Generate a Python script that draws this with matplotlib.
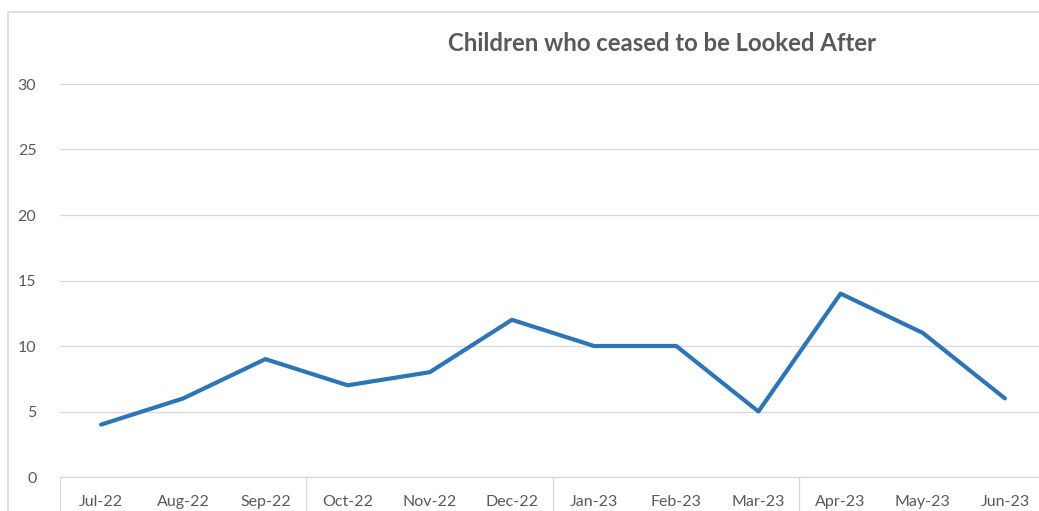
import matplotlib
matplotlib.use('Agg')
import matplotlib.pyplot as plt
from matplotlib.patches import Rectangle

months = ["Jul-22", "Aug-22", "Sep-22", "Oct-22", "Nov-22", "Dec-22",
          "Jan-23", "Feb-23", "Mar-23", "Apr-23", "May-23", "Jun-23"]
ceased = [4, 6, 9, 7, 8, 12, 10, 10, 5, 14, 11, 6]
y_ticks = [0, 5, 10, 15, 20, 25, 30]
quarter_breaks = [-0.5, 2.5, 5.5, 8.5, 11.5]

W, H = 1039, 511
TEXT = "#595959"
GRID = "#d9d9d9"
LINE = "#2e75b6"

plt.rcParams['font.family'] = ['Lato', 'DejaVu Sans']

fig = plt.figure(figsize=(W / 100, H / 100), dpi=100)

# outer chart border (runs past the right and bottom edges of the crop)
fig.patches.append(Rectangle((8 / W, -0.1), 1.2, (H - 12) / H + 0.1,
                             transform=fig.transFigure, fill=False,
                             edgecolor=GRID, linewidth=1.2))

left, right = 60, 1046
bottom, top = 477, 84
ax = fig.add_axes([left / W, (H - bottom) / H, (right - left) / W, (bottom - top) / H])

ax.plot(range(len(months)), ceased, color=LINE, linewidth=3.0,
        solid_joinstyle='round', solid_capstyle='round')

ax.set_xlim(-0.5, len(months) - 0.5)
ax.set_ylim(0, 30)
ax.set_yticks(y_ticks)
ax.set_yticklabels([str(v) for v in y_ticks])
ax.set_xticks(range(len(months)))
ax.set_xticklabels(months)
ax.tick_params(axis='both', length=0, labelcolor=TEXT, labelsize=11.5)
ax.tick_params(axis='x', pad=13)
ax.tick_params(axis='y', pad=17)

ax.grid(axis='y', color=GRID, linewidth=0.9)
ax.set_axisbelow(True)
for side in ['top', 'right', 'left']:
    ax.spines[side].set_visible(False)
ax.spines['bottom'].set_color(GRID)
ax.spines['bottom'].set_linewidth(0.9)

# quarter separators below the category axis
for xb in quarter_breaks:
    ax.plot([xb, xb], [0, -4], color=GRID, linewidth=0.9, clip_on=False)

fig.text(662 / W, 1 - 43 / H, "Children who ceased to be Looked After",
         ha='center', va='center', fontsize=17.2, fontweight='bold', color=TEXT)

fig.savefig("out.png", dpi=100)
plt.close(fig)
